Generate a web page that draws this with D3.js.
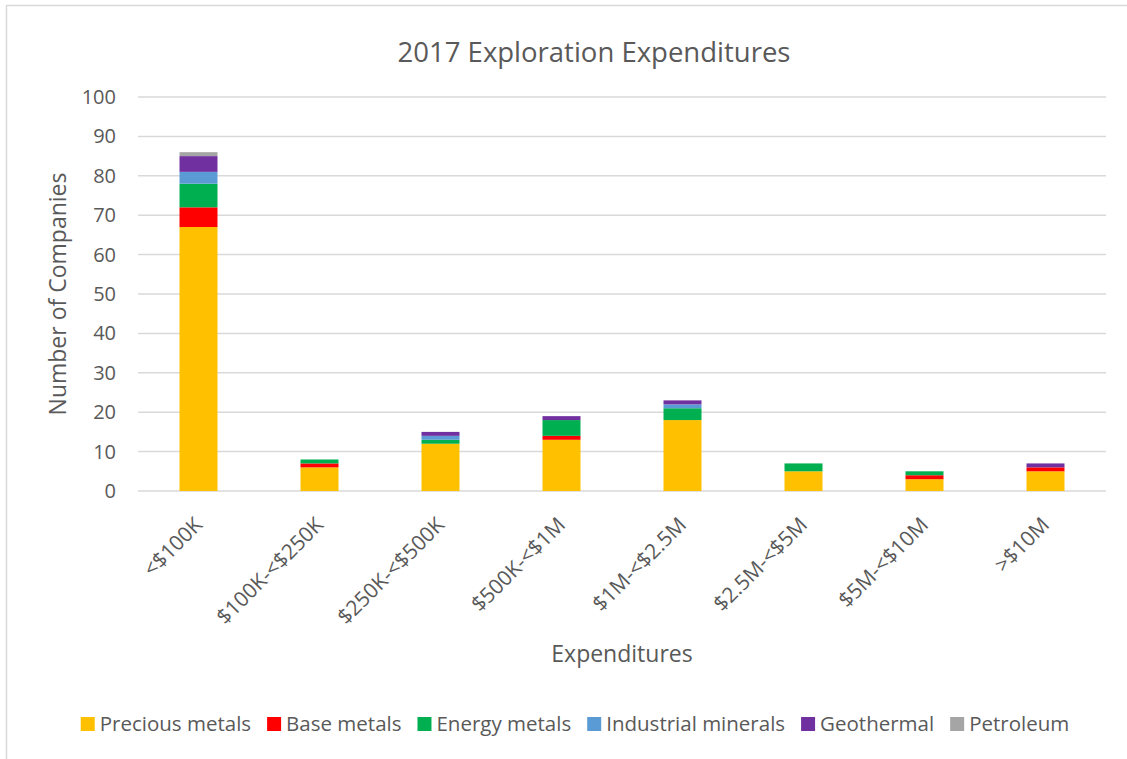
<!DOCTYPE html>
<html>
<head>
<meta charset="utf-8">
<script src="https://cdn.jsdelivr.net/npm/d3@7"></script>
<style>
  html, body { margin: 0; padding: 0; background: #fff; }
  svg { display: block; }
  text { font-family: "Open Sans", "Noto Sans", sans-serif; fill: #595959; }
</style>
</head>
<body>
<svg id="chart" width="1127" height="759"></svg>
<script>
// Expenditure bands on the x axis
const categories = ["<$100K", "$100K-<$250K", "$250K-<$500K", "$500K-<$1M",
                    "$1M-<$2.5M", "$2.5M-<$5M", "$5M-<$10M", ">$10M"];

// Number of companies per commodity group, one value per band
const preciousMetals     = [67, 6, 12, 13, 18, 5, 3, 5];
const baseMetals         = [5, 1, 0, 1, 0, 0, 1, 1];
const energyMetals       = [6, 1, 1, 4, 3, 2, 1, 0];
const industrialMinerals = [3, 0, 1, 0, 1, 0, 0, 0];
const geothermal         = [4, 0, 1, 1, 1, 0, 0, 1];
const petroleum          = [1, 0, 0, 0, 0, 0, 0, 0];

const seriesNames = ["Precious metals", "Base metals", "Energy metals",
                     "Industrial minerals", "Geothermal", "Petroleum"];
const yTicks = [0, 10, 20, 30, 40, 50, 60, 70, 80, 90, 100];

const colors = ["#FFC000", "#FF0000", "#00B050", "#5B9BD5", "#7030A0", "#A5A5A5"];
const seriesValues = [preciousMetals, baseMetals, energyMetals,
                      industrialMinerals, geothermal, petroleum];

const rows = categories.map((c, i) => {
  const r = { category: c };
  seriesNames.forEach((s, k) => { r[s] = seriesValues[k][i]; });
  return r;
});

const svg = d3.select("#chart");

// chart frame
svg.append("rect")
  .attr("x", 6.5).attr("y", 5.5)
  .attr("width", 1140).attr("height", 780)
  .attr("fill", "none").attr("stroke", "#d9d9d9").attr("stroke-width", 1.5);

const plot = { left: 138, right: 1106, top: 97, bottom: 491 };

const x = d3.scaleBand()
  .domain(categories)
  .range([plot.left, plot.right])
  .paddingInner(0.686)
  .paddingOuter(0.343);

const y = d3.scaleLinear()
  .domain([0, 100])
  .range([plot.bottom, plot.top]);

// horizontal gridlines
svg.append("g")
  .selectAll("line")
  .data(yTicks)
  .join("line")
  .attr("x1", plot.left).attr("x2", plot.right)
  .attr("y1", d => y(d)).attr("y2", d => y(d))
  .attr("stroke", "#d9d9d9").attr("stroke-width", 1.5);

// y axis labels
const yAxis = svg.append("g")
  .attr("transform", `translate(${plot.left - 22},0)`)
  .call(d3.axisLeft(y).tickValues(yTicks).tickSize(0).tickPadding(0));
yAxis.select(".domain").remove();
yAxis.selectAll("text")
  .attr("font-size", 20)
  .attr("font-family", "'Open Sans', sans-serif")
  .attr("fill", "#595959");

// stacked bars
const stack = d3.stack().keys(seriesNames);
const stacked = stack(rows);

svg.append("g")
  .selectAll("g")
  .data(stacked)
  .join("g")
  .attr("fill", (d, i) => colors[i])
  .selectAll("rect")
  .data(d => d.filter(p => p[1] > p[0]))
  .join("rect")
  .attr("x", d => x(d.data.category))
  .attr("width", x.bandwidth())
  .attr("y", d => y(d[1]))
  .attr("height", d => y(d[0]) - y(d[1]));

// x axis category labels, rotated
const xAxis = svg.append("g")
  .attr("transform", `translate(0,${plot.bottom})`)
  .call(d3.axisBottom(x).tickSize(0).tickPadding(0));
xAxis.select(".domain").remove();
xAxis.selectAll("text")
  .attr("font-size", 21)
  .attr("font-family", "'Open Sans', sans-serif")
  .attr("fill", "#595959")
  .attr("text-anchor", "end")
  .attr("dy", "0.35em")
  .attr("transform", "translate(0,30) rotate(-45)");

// titles
svg.append("text")
  .attr("x", 594).attr("y", 62)
  .attr("text-anchor", "middle")
  .attr("font-size", 27.5)
  .text("2017 Exploration Expenditures");

svg.append("text")
  .attr("x", (plot.left + plot.right) / 2).attr("y", 662)
  .attr("text-anchor", "middle")
  .attr("font-size", 23)
  .text("Expenditures");

svg.append("text")
  .attr("transform", `translate(66,${(plot.top + plot.bottom) / 2}) rotate(-90)`)
  .attr("text-anchor", "middle")
  .attr("font-size", 23)
  .text("Number of Companies");

// legend
const legend = svg.append("g");
const items = legend.selectAll("g")
  .data(seriesNames)
  .join("g");
items.append("rect")
  .attr("width", 14).attr("height", 14)
  .attr("y", 717)
  .attr("fill", (d, i) => colors[i]);
items.append("text")
  .attr("x", 19).attr("y", 731)
  .attr("font-size", 20.5)
  .text(d => d);

const widths = items.nodes().map(n =>
  d3.select(n).select("text").node().getComputedTextLength() + 19);
const gap = 16;
const total = d3.sum(widths) + gap * (widths.length - 1);
let cursor = 575 - total / 2;
items.each(function (d, i) {
  d3.select(this).attr("transform", `translate(${cursor},0)`);
  cursor += widths[i] + gap;
});
</script>
</body>
</html>
